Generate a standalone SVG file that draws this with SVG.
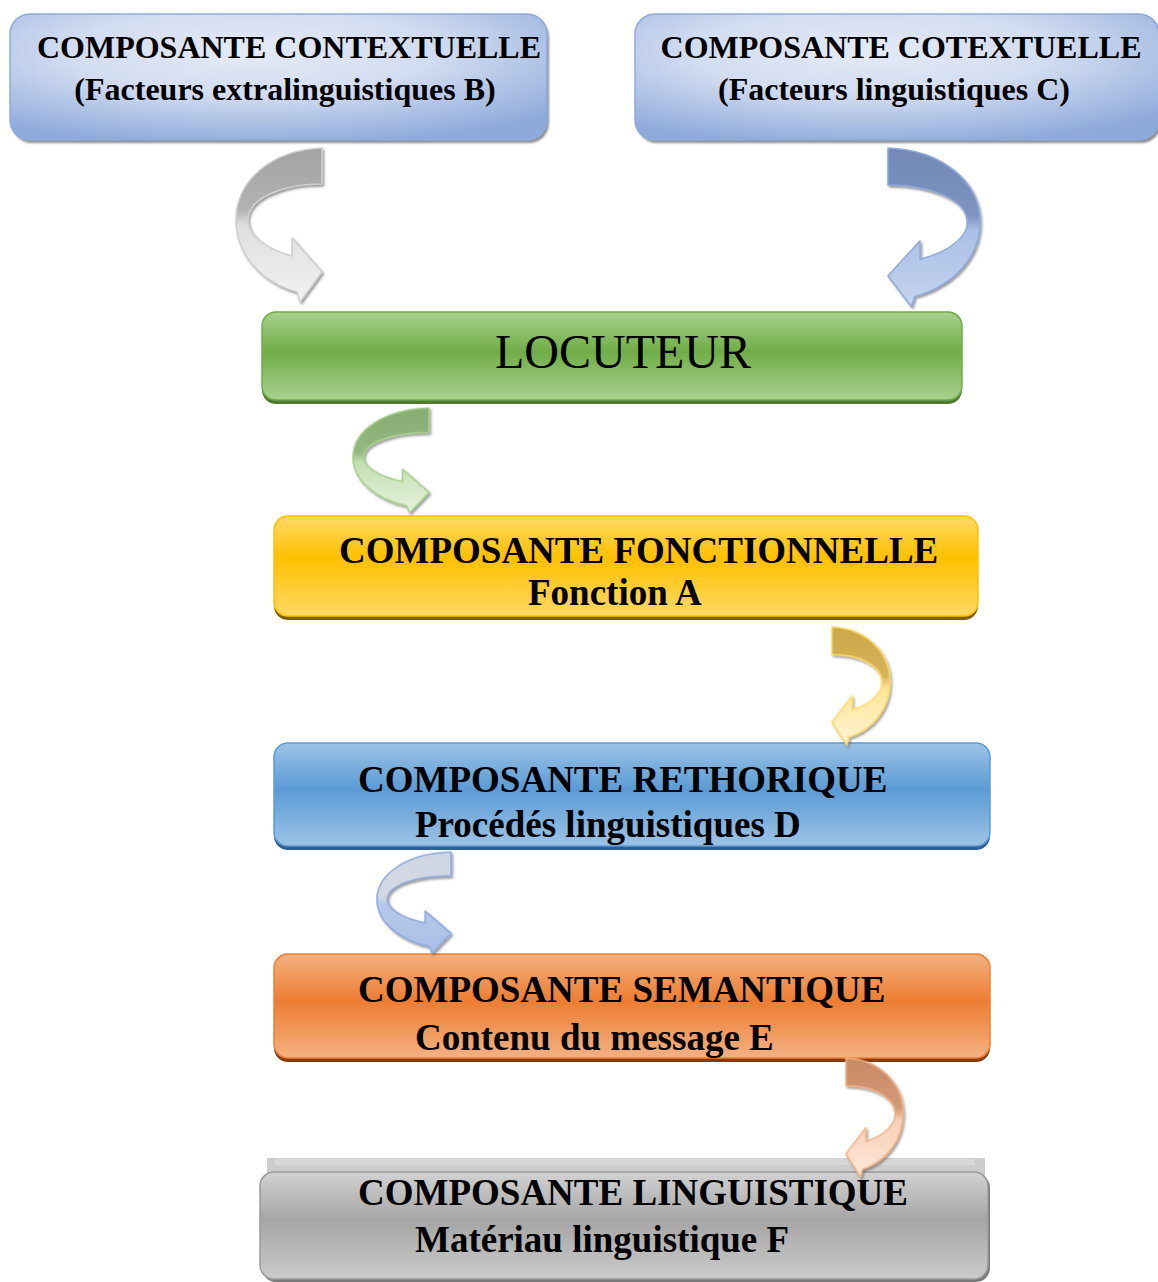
<svg xmlns="http://www.w3.org/2000/svg" xmlns:xlink="http://www.w3.org/1999/xlink" width="1158" height="1282" viewBox="0 0 1158 1282">
  <style>
    .t { font-family: "Liberation Serif", "Times New Roman", serif; font-weight: bold; font-size: 37px; fill: #000; }
    .top { font-size: 32px; }
    .loc { font-weight: normal; font-size: 48px; }
    .arrow { stroke-width: 1.5; stroke-linejoin: round; }
  </style>
  <defs>
    <!-- box fills -->
    <radialGradient id="gPale" cx="0.45" cy="0.3" r="0.75">
      <stop offset="0" stop-color="#e4eaf6"/>
      <stop offset="0.45" stop-color="#d3ddf1"/>
      <stop offset="1" stop-color="#8eaadb"/>
    </radialGradient>
    <linearGradient id="gGreen" x1="0" y1="0" x2="0" y2="1">
      <stop offset="0" stop-color="#a9d18e"/>
      <stop offset="0.45" stop-color="#70ad47"/>
      <stop offset="1" stop-color="#a9d18e"/>
    </linearGradient>
    <linearGradient id="gYellow" x1="0" y1="0" x2="0" y2="1">
      <stop offset="0" stop-color="#ffd966"/>
      <stop offset="0.42" stop-color="#ffc000"/>
      <stop offset="1" stop-color="#ffd966"/>
    </linearGradient>
    <linearGradient id="gBlue" x1="0" y1="0" x2="0" y2="1">
      <stop offset="0" stop-color="#9dc3e6"/>
      <stop offset="0.45" stop-color="#5b9bd5"/>
      <stop offset="1" stop-color="#9dc3e6"/>
    </linearGradient>
    <linearGradient id="gOrange" x1="0" y1="0" x2="0" y2="1">
      <stop offset="0" stop-color="#f4b183"/>
      <stop offset="0.45" stop-color="#ed7d31"/>
      <stop offset="1" stop-color="#f4b183"/>
    </linearGradient>
    <linearGradient id="gGray" x1="0" y1="0" x2="0" y2="1">
      <stop offset="0" stop-color="#d2d2d2"/>
      <stop offset="0.45" stop-color="#a5a5a5"/>
      <stop offset="1" stop-color="#cbcbcb"/>
    </linearGradient>

    <!-- arrow fills: darker back face on top, lighter front face below -->
    <linearGradient id="aGray" x1="0" y1="0" x2="0" y2="1">
      <stop offset="0" stop-color="#a3a3a3"/>
      <stop offset="0.4" stop-color="#b2b2b2"/>
      <stop offset="0.5" stop-color="#dedede"/>
      <stop offset="1" stop-color="#f2f2f2"/>
    </linearGradient>
    <linearGradient id="aBlueDark" x1="0" y1="0" x2="0" y2="1">
      <stop offset="0" stop-color="#7389b5"/>
      <stop offset="0.42" stop-color="#7d93c0"/>
      <stop offset="0.52" stop-color="#aabfe6"/>
      <stop offset="1" stop-color="#c6d5ef"/>
    </linearGradient>
    <linearGradient id="aGreen" x1="0" y1="0" x2="0" y2="1">
      <stop offset="0" stop-color="#86ac72"/>
      <stop offset="0.42" stop-color="#93b980"/>
      <stop offset="0.52" stop-color="#c4e0b3"/>
      <stop offset="1" stop-color="#e6f2de"/>
    </linearGradient>
    <linearGradient id="aYellow" x1="0" y1="0" x2="0" y2="1">
      <stop offset="0" stop-color="#cda848"/>
      <stop offset="0.42" stop-color="#d6b45a"/>
      <stop offset="0.52" stop-color="#ffe699"/>
      <stop offset="1" stop-color="#fff5d6"/>
    </linearGradient>
    <linearGradient id="aBlueLight" x1="0" y1="0" x2="0" y2="1">
      <stop offset="0" stop-color="#cfd6e2"/>
      <stop offset="0.42" stop-color="#d4dbe6"/>
      <stop offset="0.52" stop-color="#b7c9ea"/>
      <stop offset="1" stop-color="#a9bfe6"/>
    </linearGradient>
    <linearGradient id="aOrange" x1="0" y1="0" x2="0" y2="1">
      <stop offset="0" stop-color="#c98a66"/>
      <stop offset="0.42" stop-color="#d39a78"/>
      <stop offset="0.52" stop-color="#f8cfb4"/>
      <stop offset="1" stop-color="#fde9dc"/>
    </linearGradient>

    <filter id="boxShadow" x="-5%" y="-10%" width="110%" height="130%">
      <feGaussianBlur stdDeviation="1.2"/>
    </filter>
    <filter id="arrowShadow" x="-20%" y="-20%" width="140%" height="140%">
      <feDropShadow dx="1.5" dy="2" stdDeviation="1.2" flood-color="#4a4a4a" flood-opacity="0.55"/>
    </filter>

    <!-- curved arrow, C-shaped, opening to the right, head pointing down-right -->
    <path id="curve" vector-effect="non-scaling-stroke"
          d="M 86,0 C 36,2 0,32 0,72 C 0,107 26,134 61,144 L 64,154 L 86,124 L 56,90 L 56,108 C 26,100 10,84 12,70 C 14,50 46,36 86,36 Z"/>
  </defs>

  <rect width="1158" height="1282" fill="#ffffff"/>

  <!-- context and cotext components -->
  <g id="node-contextuelle">
    <rect x="12" y="17" width="537" height="126" rx="20" fill="#8c8c8c" filter="url(#boxShadow)"/>
    <rect x="10" y="14" width="537" height="126" rx="20" fill="url(#gPale)" stroke="#8eaadb" stroke-width="1.5"/>
    <text class="t top" x="289" y="58" text-anchor="middle">COMPOSANTE CONTEXTUELLE</text>
    <text class="t top" x="285" y="100" text-anchor="middle">(Facteurs extralinguistiques B)</text>
  </g>

  <g id="node-cotextuelle">
    <rect x="637" y="17" width="524" height="126" rx="20" fill="#8c8c8c" filter="url(#boxShadow)"/>
    <rect x="635" y="14" width="524" height="126" rx="20" fill="url(#gPale)" stroke="#8eaadb" stroke-width="1.5"/>
    <text class="t top" x="901" y="58" text-anchor="middle">COMPOSANTE COTEXTUELLE</text>
    <text class="t top" x="894" y="100" text-anchor="middle">(Facteurs linguistiques C)</text>
  </g>

  <g id="node-locuteur">
    <rect x="262" y="315" width="700" height="89" rx="14" fill="#4e7a31"/>
    <rect x="262" y="312" width="700" height="88" rx="14" fill="url(#gGreen)" stroke="#70ad47" stroke-width="1.5"/>
    <text class="t loc" x="623" y="368" text-anchor="middle">LOCUTEUR</text>
  </g>

  <g id="node-fonctionnelle">
    <rect x="274" y="519" width="704" height="101" rx="14" fill="#7f6000"/>
    <rect x="274" y="516" width="704" height="100" rx="14" fill="url(#gYellow)" stroke="#ffc000" stroke-width="1.5"/>
    <text class="t" x="339" y="563">COMPOSANTE FONCTIONNELLE</text>
    <text class="t" x="528" y="605">Fonction A</text>
  </g>

  <g id="node-rethorique">
    <rect x="274" y="746" width="716" height="104" rx="14" fill="#2f5f8f"/>
    <rect x="274" y="743" width="716" height="103" rx="14" fill="url(#gBlue)" stroke="#5b9bd5" stroke-width="1.5"/>
    <text class="t" x="358" y="792">COMPOSANTE RETHORIQUE</text>
    <text class="t" x="415" y="837">Procédés linguistiques D</text>
  </g>

  <g id="node-semantique">
    <rect x="274" y="957" width="716" height="105" rx="14" fill="#843c0c"/>
    <rect x="274" y="954" width="716" height="104" rx="14" fill="url(#gOrange)" stroke="#ed7d31" stroke-width="1.5"/>
    <text class="t" x="358" y="1002">COMPOSANTE SEMANTIQUE</text>
    <text class="t" x="415" y="1050">Contenu du message E</text>
  </g>

  <g id="node-linguistique">
    <rect x="267" y="1158" width="718" height="40" fill="#cdcdcd"/>
    <rect x="275" y="1159" width="700" height="6" fill="#d8d8d8"/>
    <rect x="262" y="1174" width="728" height="108" rx="14" fill="#7a7a7a"/>
    <rect x="260" y="1172" width="728" height="107" rx="14" fill="url(#gGray)" stroke="#9a9a9a" stroke-width="1.5"/>
    <text class="t" x="358" y="1205">COMPOSANTE LINGUISTIQUE</text>
    <text class="t" x="415" y="1252">Matériau linguistique F</text>
  </g>

  <!-- curved connectors -->
  <g id="connectors" class="arrow" filter="url(#arrowShadow)">
    <use id="arrow-b-locuteur" xlink:href="#curve" transform="translate(236 148)" fill="url(#aGray)" stroke="#cfcfcf"/>
    <use id="arrow-c-locuteur" xlink:href="#curve" transform="matrix(-1.07 0 0 1.03 980 148)" fill="url(#aBlueDark)" stroke="#8eaadb"/>
    <use id="arrow-locuteur-a" xlink:href="#curve" transform="matrix(0.884 0 0 0.68 353 408)" fill="url(#aGreen)" stroke="#a9d18e"/>
    <use id="arrow-a-d" xlink:href="#curve" transform="matrix(-0.674 0 0 0.766 890 627)" fill="url(#aYellow)" stroke="#ffd966"/>
    <use id="arrow-d-e" xlink:href="#curve" transform="matrix(0.86 0 0 0.656 377 852)" fill="url(#aBlueLight)" stroke="#8faadc"/>
    <use id="arrow-e-f" xlink:href="#curve" transform="matrix(-0.663 0 0 0.773 903 1058)" fill="url(#aOrange)" stroke="#f4b183"/>
  </g>
</svg>
